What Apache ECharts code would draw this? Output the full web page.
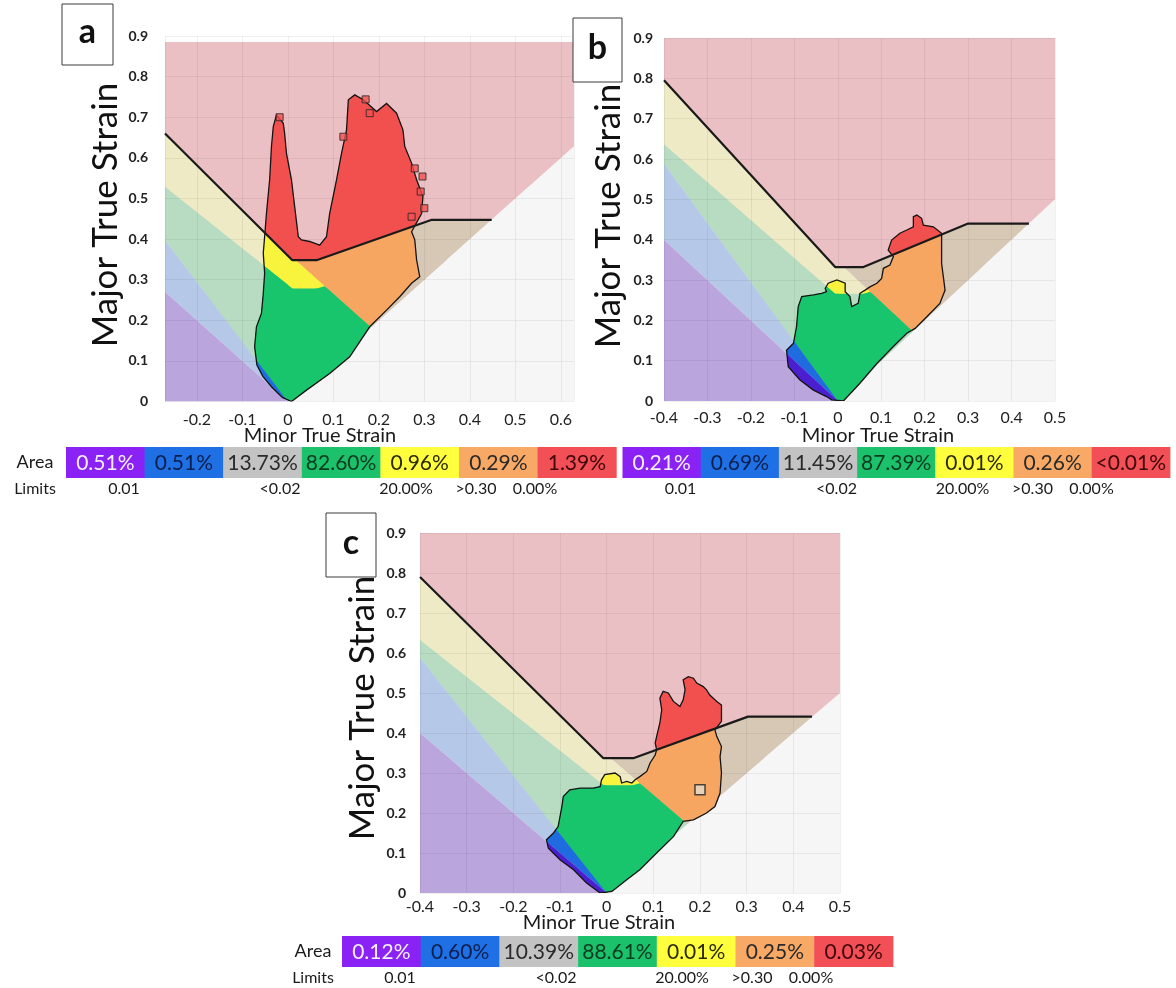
<!DOCTYPE html>
<html lang="en">
<head>
<meta charset="UTF-8">
<title>Forming limit diagrams a, b, c</title>
<script src="https://cdn.jsdelivr.net/npm/echarts@6.0.0/dist/echarts.min.js"></script>
<style>body{margin:0;background:#fff}</style>
</head>
<body>
<div id="main" style="width:1176px;height:988px"></div>
<script>
// ---------- values ----------
// forming limit curve (minor, major) per panel
var flcA = [[-0.27, 0.66], [0.01, 0.348], [0.063, 0.348], [0.315, 0.447], [0.448, 0.447]];
var flcB = [[-0.4, 0.795], [-0.006, 0.332], [0.059, 0.332], [0.3, 0.44], [0.44, 0.44]];
var flcC = [[-0.4, 0.79], [-0.007, 0.337], [0.057, 0.337], [0.303, 0.441], [0.44, 0.441]];

// thinning threshold (minor + major), uniaxial line slope, safety margin
var thinA = 0.365, thinB = 0.345, thinC = 0.345;
var tensionSlope = 1.47;
var safetyMargin = 0.2;

// visible strain window of each diagram: [minorMin, minorMax, majorTop]
var windowA = [-0.27, 0.629, 0.885];
var windowB = [-0.4, 0.5, 0.9];
var windowC = [-0.4, 0.5, 0.9];

// outline of the measured point cloud (minor, major)
var cloudA = [[0.008,0],[0.041,0.028],[0.092,0.069],[0.136,0.11],[0.18,0.184],[0.217,0.225],[0.246,0.258],
  [0.272,0.291],[0.29,0.307],[0.283,0.349],[0.279,0.398],[0.272,0.418],[0.294,0.463],[0.297,0.505],
  [0.283,0.546],[0.272,0.587],[0.257,0.628],[0.253,0.669],[0.239,0.71],[0.217,0.734],[0.195,0.714],
  [0.166,0.743],[0.147,0.755],[0.133,0.743],[0.129,0.669],[0.118,0.611],[0.107,0.546],[0.092,0.463],
  [0.085,0.406],[0.07,0.385],[0.048,0.394],[0.03,0.398],[0.023,0.406],[0.015,0.48],[0.008,0.546],
  [-0.003,0.611],[-0.007,0.66],[-0.01,0.685],[-0.025,0.706],[-0.032,0.677],[-0.036,0.628],[-0.04,0.546],
  [-0.047,0.463],[-0.051,0.406],[-0.054,0.365],[-0.051,0.316],[-0.054,0.266],[-0.058,0.217],
  [-0.069,0.184],[-0.073,0.135],[-0.068,0.09],[-0.055,0.062],[-0.035,0.035],[-0.012,0.01]];
var cloudB = [[-0.014,0.003],[0.013,0],[0.051,0.044],[0.09,0.093],[0.128,0.135],[0.159,0.168],[0.178,0.18],
  [0.205,0.209],[0.235,0.242],[0.247,0.275],[0.239,0.341],[0.239,0.399],[0.239,0.416],[0.22,0.432],
  [0.197,0.436],[0.193,0.453],[0.182,0.461],[0.174,0.457],[0.174,0.432],[0.159,0.424],[0.143,0.416],
  [0.124,0.399],[0.116,0.374],[0.128,0.358],[0.12,0.337],[0.105,0.329],[0.101,0.304],[0.09,0.292],
  [0.074,0.283],[0.063,0.275],[0.051,0.267],[0.047,0.242],[0.032,0.234],[0.028,0.259],[0.017,0.271],
  [0.017,0.292],[-0.002,0.3],[-0.022,0.292],[-0.029,0.279],[-0.026,0.271],[-0.037,0.267],[-0.056,0.263],
  [-0.083,0.259],[-0.091,0.234],[-0.095,0.184],[-0.102,0.143],[-0.118,0.126],[-0.114,0.085],
  [-0.087,0.052],[-0.056,0.027],[-0.026,0.011]];
var cloudC = [[0.011,0.004],[0.043,0.033],[0.071,0.058],[0.107,0.1],[0.143,0.141],[0.164,0.179],[0.186,0.183],
  [0.214,0.2],[0.232,0.216],[0.243,0.25],[0.246,0.3],[0.243,0.341],[0.246,0.366],[0.236,0.391],
  [0.232,0.408],[0.246,0.429],[0.246,0.47],[0.236,0.479],[0.221,0.495],[0.214,0.508],[0.207,0.516],
  [0.193,0.525],[0.186,0.537],[0.175,0.541],[0.164,0.533],[0.168,0.508],[0.164,0.483],[0.157,0.466],
  [0.143,0.479],[0.132,0.5],[0.121,0.504],[0.114,0.487],[0.118,0.458],[0.114,0.425],[0.107,0.391],
  [0.104,0.375],[0.107,0.358],[0.104,0.345],[0.093,0.325],[0.086,0.304],[0.071,0.291],[0.061,0.283],
  [0.054,0.275],[0.043,0.279],[0.032,0.275],[0.029,0.291],[0.018,0.3],[-0.004,0.296],[-0.011,0.283],
  [-0.014,0.266],[-0.029,0.262],[-0.057,0.262],[-0.079,0.258],[-0.093,0.241],[-0.096,0.216],
  [-0.104,0.166],[-0.114,0.15],[-0.129,0.133],[-0.125,0.112],[-0.1,0.083],[-0.071,0.058],
  [-0.043,0.025],[-0.014,0]];

// isolated points outside the cloud (panel a) and the marked point (panel c)
var spotsA = [[0.279,0.574],[0.296,0.554],[0.292,0.517],[0.3,0.476],[0.272,0.455],[0.171,0.744],
  [0.18,0.71],[-0.018,0.70],[0.122,0.652]];
var markC = [[0.2, 0.258]];

// area table
var areaA = ['0.51%', '0.51%', '13.73%', '82.60%', '0.96%', '0.29%', '1.39%'];
var areaB = ['0.21%', '0.69%', '11.45%', '87.39%', '0.01%', '0.26%', '<0.01%'];
var areaC = ['0.12%', '0.60%', '10.39%', '88.61%', '0.01%', '0.25%', '0.03%'];
var limitLabels = ['0.01', '<0.02', '20.00%', '>0.30', '0.00%'];

// ---------- styling / layout ----------
var BG = {white: '#f6f6f6', pink: '#ebc0c4', tan: '#d7c8b6', beige: '#eeeac6',
          green: '#b7dcc1', blue: '#b6c8e8', purple: '#baa5dd'};
var PT = {red: '#f24f4f', orange: '#f6a660', yellow: '#f8f33c', green: '#18c56c',
          blue: '#1e6ce0', purple: '#4b1fd0'};
var cellFill = ['#8a22f6', '#1f70e4', '#c3c3c3', '#1cc16b', '#ffff3e', '#f7a965', '#f24f56'];
var cellInk = ['#f6eeff', '#0b1f4f', '#2a2a2a', '#0c3a1f', '#2a2a00', '#2a2a2a', '#3d0608'];

var grids = [
  {left: 165, top: 36, width: 409, height: 365.5},
  {left: 664, top: 38, width: 391, height: 363},
  {left: 420, top: 533, width: 420, height: 360}
];
var yLabelMargin = [17, 11, 14];
var xLabelMargin = [10, 9, 6];
var tables = [
  {x: 66, y: 447, w: 78.6, h: 31, labelX: 35},
  {x: 622.5, y: 447, w: 78.2, h: 31, labelX: null},
  {x: 342, y: 936, w: 78.7, h: 31, labelX: 313}
];
var limitOffsets = [58, 214, 340, 410, 469];

// ---------- zone geometry ----------
function clipHalf(poly, a, b, c) { // keep a*x + b*y + c >= 0
  var out = [];
  for (var i = 0; i < poly.length; i++) {
    var P = poly[i], Q = poly[(i + 1) % poly.length];
    var fp = a * P[0] + b * P[1] + c, fq = a * Q[0] + b * Q[1] + c;
    if (fp >= 0) out.push(P);
    if ((fp >= 0) !== (fq >= 0)) {
      var t = fp / (fp - fq);
      out.push([P[0] + t * (Q[0] - P[0]), P[1] + t * (Q[1] - P[1])]);
    }
  }
  return out;
}

// FLC = max(left, flat, min(right, cap))
function flcLines(flc) {
  var lines = [];
  for (var i = 0; i < flc.length - 2; i++) {
    var p = flc[i], q = flc[i + 1], m = (q[1] - p[1]) / (q[0] - p[0]);
    lines.push([m, p[1] - m * p[0]]);
  }
  return {lines: lines, cap: flc[flc.length - 1][1]};
}
function above(l, f) { return [-f * l[0], 1, -f * l[1]]; }
function below(l, f) { return [f * l[0], -1, f * l[1]]; }
// each condition = list of alternatives, each alternative = list of half planes
function aboveFlc(L, f) {
  var n = L.lines.length, base = [];
  for (var i = 0; i < n - 1; i++) base.push(above(L.lines[i], f));
  return [base.concat([above(L.lines[n - 1], f)]), base.concat([[0, 1, -f * L.cap]])];
}
function belowFlc(L, f) {
  var n = L.lines.length, alts = [];
  for (var i = 0; i < n - 1; i++) alts.push([below(L.lines[i], f)]);
  alts.push([below(L.lines[n - 1], f), [0, -1, f * L.cap]]);
  return alts;
}
function half(a, b, c) { return [[[a, b, c]]]; }
// thinning zone: minor >= 0 and minor + major >= T ; its complement as alternatives
function thinned(T) { return [[[1, 1, -T], [1, 0, 0]]]; }
function notThinned(T) { return [[[-1, -1, T]], [[-1, 0, 0]]]; }

function zonePieces(poly, conds) {
  var combos = [[]];
  conds.forEach(function (alts) {
    var next = [];
    combos.forEach(function (cb) { alts.forEach(function (alt) { next.push(cb.concat(alt)); }); });
    combos = next;
  });
  return combos.map(function (hs) {
    var p = poly;
    for (var i = 0; i < hs.length && p.length >= 3; i++) p = clipHalf(p, hs[i][0], hs[i][1], hs[i][2]);
    return p;
  }).filter(function (p) { return p.length >= 3; });
}

function buildPanel(flc, T, win, cloud) {
  var L = flcLines(flc), k = tensionSlope, m = 1 - safetyMargin;
  var rect = [[win[0], 0], [win[1], 0], [win[1], win[2]], [win[0], win[2]]];
  var bgZones = [
    [BG.white, [half(1, -1, 0)]],
    [BG.pink, [aboveFlc(L, 1), half(-1, 1, 0)]],
    [BG.tan, [belowFlc(L, 1), thinned(T), half(-1, 1, 0)]],
    [BG.beige, [aboveFlc(L, m), belowFlc(L, 1), notThinned(T)]],
    [BG.green, [belowFlc(L, m), notThinned(T), half(k, 1, 0), half(-1, 1, 0)]],
    [BG.blue, [half(-k, -1, 0), half(1, 1, 0)]],
    [BG.purple, [half(-1, -1, 0)]]
  ];
  var ptZones = [
    [PT.red, [aboveFlc(L, 1)]],
    [PT.orange, [belowFlc(L, 1), thinned(T)]],
    [PT.yellow, [aboveFlc(L, m), belowFlc(L, 1), notThinned(T)]],
    [PT.green, [belowFlc(L, m), notThinned(T), half(k, 1, 0)]],
    [PT.blue, [half(-k, -1, 0), half(1, 1, 0)]],
    [PT.purple, [half(-1, -1, 0)]]
  ];
  function collect(poly, zones) {
    var out = [];
    zones.forEach(function (z) {
      zonePieces(poly, z[1]).forEach(function (p) { out.push({pts: p, color: z[0]}); });
    });
    return out;
  }
  return {bg: collect(rect, bgZones), pts: collect(cloud, ptZones)};
}

function polySeries(idx, pieces, z, strokeOnly) {
  return {
    type: 'custom', xAxisIndex: idx, yAxisIndex: idx, z: z, silent: true, clip: true,
    data: pieces.map(function (p) { return p.pts[0]; }),
    renderItem: function (params, api) {
      var pc = pieces[params.dataIndex];
      return {
        type: 'polygon',
        shape: {points: pc.pts.map(function (q) { return api.coord(q); })},
        style: strokeOnly ? {fill: 'none', stroke: '#141414', lineWidth: 1.3}
                          : {fill: pc.color}
      };
    }
  };
}

var panels = [
  buildPanel(flcA, thinA, windowA, cloudA),
  buildPanel(flcB, thinB, windowB, cloudB),
  buildPanel(flcC, thinC, windowC, cloudC)
];
var flcs = [flcA, flcB, flcC];
var clouds = [cloudA, cloudB, cloudC];
var wins = [windowA, windowB, windowC];

function tickFmt(v) {
  var r = Math.round(v * 10);
  if (Math.abs(v * 10 - r) > 1e-6) return '';
  return r === 0 ? '0' : (r / 10).toString();
}

var series = [];
panels.forEach(function (p, i) {
  series.push(polySeries(i, p.bg, -1, false));
  series.push(polySeries(i, p.pts, 2, false));
  series.push(polySeries(i, [{pts: clouds[i]}], 3, true));
  series.push({
    type: 'line', xAxisIndex: i, yAxisIndex: i, data: flcs[i], z: 6, silent: true,
    showSymbol: false, symbol: 'none', lineStyle: {color: '#1a1a1a', width: 2.2}
  });
});
series.push({
  type: 'scatter', xAxisIndex: 0, yAxisIndex: 0, data: spotsA, z: 4, symbol: 'rect', symbolSize: 7,
  itemStyle: {color: PT.red, borderColor: '#222', borderWidth: 1}
});
series.push({
  type: 'scatter', xAxisIndex: 2, yAxisIndex: 2, data: markC, z: 5, symbol: 'rect', symbolSize: 10,
  itemStyle: {color: '#e6dccb', borderColor: '#222', borderWidth: 1.5}
});

var xAxis = wins.map(function (w, i) {
  var ax = {
    gridIndex: i, type: 'value', min: w[0], max: w[1],
    axisLine: {show: false}, axisTick: {show: false},
    axisLabel: {margin: xLabelMargin[i], fontSize: 16, color: '#222', fontFamily: 'Lato', formatter: tickFmt},
    splitLine: {show: true, lineStyle: {color: 'rgba(0,0,0,0.06)', width: 1}}
  };
  if (i === 0) ax.splitNumber = 9; else ax.interval = 0.1;
  return ax;
});
var yAxis = wins.map(function (w, i) {
  return {
    gridIndex: i, type: 'value', min: 0, max: 0.9, interval: 0.1,
    axisLine: {show: false}, axisTick: {show: false},
    axisLabel: {margin: yLabelMargin[i], fontSize: 14, fontWeight: 'bold', color: '#222',
                fontFamily: 'Lato', formatter: tickFmt},
    splitLine: {show: true, lineStyle: {color: 'rgba(0,0,0,0.06)', width: 1}}
  };
});

// ---------- text furniture ----------
var graphic = [];
function txt(x, y, s, size, opts) {
  opts = opts || {};
  graphic.push({
    type: 'text', x: x, y: y, rotation: opts.rot || 0, z: 100,
    style: {text: s, fontSize: size, fontFamily: 'Lato', fontWeight: opts.bold ? 'bold' : 'normal',
            fill: opts.fill || '#1a1a1a', align: 'center', verticalAlign: 'middle'}
  });
}
[['a', 62, 4, 51, 61], ['b', 573, 18, 49, 64], ['c', 326, 513, 50, 64]].forEach(function (b) {
  graphic.push({type: 'rect', z: 99, shape: {x: b[1], y: b[2], width: b[3], height: b[4]},
                style: {fill: '#fff', stroke: '#3a3a3a', lineWidth: 1}});
  txt(b[1] + b[3] / 2, b[2] + b[4] / 2 - 2, b[0], 34, {bold: true, fill: '#111'});
});
[[106, 215], [609, 216], [363, 708]].forEach(function (p) {
  txt(p[0], p[1], 'Major True Strain', 35, {rot: Math.PI / 2, fill: '#111'});
});
[[320, 436], [878, 436], [599, 923]].forEach(function (p) {
  txt(p[0], p[1], 'Minor True Strain', 20);
});
[areaA, areaB, areaC].forEach(function (vals, i) {
  var t = tables[i];
  vals.forEach(function (v, j) {
    graphic.push({type: 'rect', z: 99, shape: {x: t.x + j * t.w, y: t.y, width: t.w + 0.5, height: t.h},
                  style: {fill: cellFill[j]}});
    txt(t.x + (j + 0.5) * t.w, t.y + t.h / 2 + 1, v, 21, {fill: cellInk[j]});
  });
  limitLabels.forEach(function (s, j) {
    txt(t.x + limitOffsets[j], t.y + t.h + 11, s, 16);
  });
  if (t.labelX !== null) {
    txt(t.labelX, t.y + t.h / 2, 'Area', 18);
    txt(t.labelX, t.y + t.h + 11, 'Limits', 16);
  }
});

var chart = echarts.init(document.getElementById('main'));
chart.setOption({
  animation: false,
  backgroundColor: '#fff',
  textStyle: {fontFamily: 'Lato'},
  grid: grids,
  xAxis: xAxis,
  yAxis: yAxis,
  series: series,
  graphic: graphic
});
</script>
</body>
</html>
